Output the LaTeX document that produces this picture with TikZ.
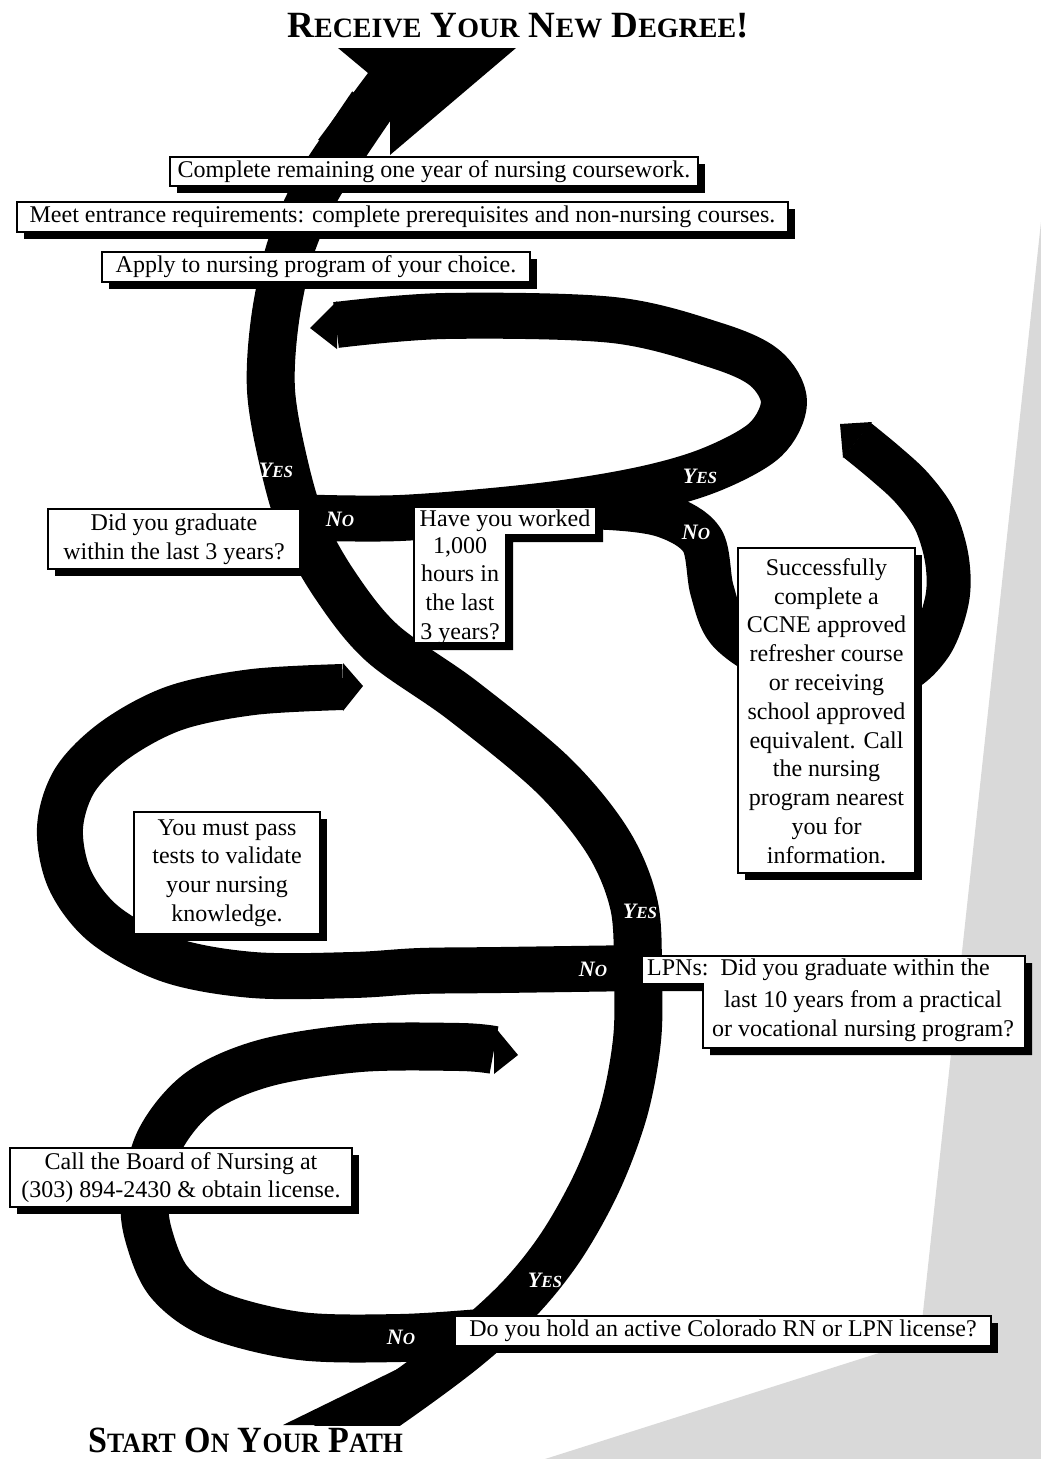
\documentclass[tikz,border=0pt]{standalone}
\usepackage{fontspec}
\usepackage{graphicx}
\setmainfont{Liberation Serif}
\usetikzlibrary{shadows}
\definecolor{bggray}{rgb}{0.85,0.85,0.85}
\newcommand\bodyfont{\fontsize{24}{28.8}\selectfont}
\newcommand\tsc[2]{{\fontsize{37}{37}\selectfont #1}{\fontsize{28}{28}\selectfont #2}}
\newcommand\ynl[2]{{\fontsize{22}{22}\selectfont #1}{\fontsize{17}{17}\selectfont #2}}
\tikzset{
  rib/.style={line width=48pt, line cap=butt, line join=round},
  box/.style={draw=black, line width=1.6pt, fill=white, inner sep=0pt, align=center, font=\bodyfont,
    drop shadow={shadow xshift=7pt, shadow yshift=-7pt, opacity=1, fill=black}},
  lbox/.style={draw=black, line width=1.6pt, fill=white},
  txt/.style={inner sep=0pt, align=center, font=\bodyfont},
  yn/.style={text=white, font=\bfseries\itshape, inner sep=0pt},
}
\begin{document}
\begin{tikzpicture}[x=1pt,y=-1pt]
\useasboundingbox (0,0) rectangle (1041,1459);
% grey backdrop
\fill[bggray] (1041,222) -- (920,1340) -- (545,1459) -- (1041,1459) -- cycle;

% ---------- main spine ----------
\begin{scope}
\clip (0,0) rectangle (1041,1425);
\draw[rib] plot[smooth, tension=0.55] coordinates {(318,1452) (395,1400) (465,1348) (520,1298) (562,1245) (598,1180) (624,1110) (637,1040) (638,975) (634,905) (608,842) (553,775) (462,700) (382,643) (335,585) (302,525) (283,460) (271,390) (275,320) (290,250) (315,192) (345,145) (372,105)};
\end{scope}
\fill (283,1425) -- (340,1425) -- (420,1358) -- cycle;
% top arrowhead, joined with the top of the shaft
\fill (338,48) -- (516,48) -- (390,155) -- (390,120) -- (370,148) -- (318,140) -- (368,73) -- cycle;

% ---------- branch: did you graduate NO + worked YES loop ----------
\draw[rib, line width=46pt] plot[smooth, tension=0.55] coordinates {(290,517) (400,518) (540,506) (640,490) (710,470) (765,440) (784,402) (765,368) (715,345) (613,320) (445,316) (336,325)};
\fill (337,301) -- (310,328) -- (337,349) -- cycle;

% ---------- branch: worked NO -> refresher loop ----------
\draw[rib, line width=44pt] plot[smooth, tension=0.55] coordinates {(540,508) (610,508) (665,516) (702,540) (712,590) (728,630) (770,660) (830,685) (895,675) (930,645) (947,600) (947,560) (935,520) (912,488) (885,463) (857,440)};
\fill (872,422) -- (840,424) -- (843,458) -- cycle;

% ---------- branch: LPN NO loop ----------
\draw[rib, line width=46pt] plot[smooth, tension=0.55] coordinates {(640,968) (500,970) (420,971) (353,975) (253,975) (170,960) (105,925) (70,880) (60,828) (75,780) (115,740) (175,708) (253,692) (343,687)};
\fill (343,663) -- (363,686) -- (343,711) -- cycle;

% ---------- branch: license NO loop ----------
\draw[rib] plot[smooth, tension=0.55] coordinates {(480,1333) (400,1338) (300,1336) (215,1315) (170,1283) (150,1240) (145,1200) (160,1140) (200,1092) (265,1063) (360,1048) (460,1047) (494,1050)};
\fill (494,1026) -- (518,1055) -- (494,1074) -- cycle;

% ---------- titles ----------
\node[font=\bfseries, anchor=base, inner sep=0pt] (title) at (518,37)
  {\fontsize{37}{37}\selectfont\tsc{R}{ECEIVE} \tsc{Y}{OUR} \tsc{N}{EW} \tsc{D}{EGREE}\tsc{!}{}};
\node[font=\bfseries, anchor=base west, inner sep=0pt] (start) at (88,1452)
  {\scalebox{0.92}[1]{\fontsize{37}{37}\selectfont\tsc{S}{TART} \tsc{O}{N} \tsc{Y}{OUR} \tsc{P}{ATH}}};

% ---------- boxes ----------
\node[box, minimum width=528pt, minimum height=29pt] (complete) at (434,171.5) {Complete remaining one year of nursing coursework.};
\node[box, minimum width=771pt, minimum height=30pt] (meet) at (402.5,217) {Meet entrance requirements: complete prerequisites and non-nursing courses.};
\node[box, minimum width=428pt, minimum height=30pt] (apply) at (316,267) {Apply to nursing program of your choice.};
\node[box, minimum width=252pt, minimum height=60pt] (didgrad) at (174,539) {Did you graduate\\within the last 3 years?};

% worked (L-shaped)
\fill[black, shift={(7,7)}] (414,507) -- (596,507) -- (596,535) -- (506,535) -- (506,643) -- (414,643) -- cycle;
\filldraw[lbox] (414,507) -- (596,507) -- (596,535) -- (506,535) -- (506,643) -- (414,643) -- cycle;
\node[txt] (worked1) at (505,521) {Have you worked};
\node[txt] (worked2) at (460,591) {1,000\\hours in\\the last\\3 years?};

% refresher
\node[box, minimum width=177pt, minimum height=325pt] (ccnebox) at (826.5,710.5) {};
\node[txt] (ccne) at (826.5,711) {Successfully\\complete a\\CCNE approved\\refresher course\\or receiving\\school approved\\equivalent. Call\\the nursing\\program nearest\\you for\\information.};

\node[box, minimum width=186pt, minimum height=122pt] (pass) at (227,873) {You must pass\\tests to validate\\your nursing\\knowledge.};

% LPN (L-shaped)
\fill[black, shift={(7,7)}] (642,956) -- (1025,956) -- (1025,1048) -- (703,1048) -- (703,984) -- (642,984) -- cycle;
\filldraw[lbox] (642,956) -- (1025,956) -- (1025,1048) -- (703,1048) -- (703,984) -- (642,984) -- cycle;
\node[txt, anchor=west] (lpn1) at (647,970) {LPNs:\ \ Did you graduate within the};
\node[txt] (lpn2) at (863,1016) {last 10 years from a practical\\or vocational nursing program?};

\node[box, minimum width=342pt, minimum height=59pt] (board) at (181,1177.5) {Call the Board of Nursing at\\(303) 894-2430 \& obtain license.};
\node[box, minimum width=536pt, minimum height=30pt] (hold) at (723,1331) {Do you hold an active Colorado RN or LPN license?};

% ---------- yes / no labels ----------
\node[yn] (y1) at (276,470) {\ynl{Y}{ES}};
\node[yn] (n1) at (340,519) {\ynl{N}{O}};
\node[yn] (y2) at (700,476) {\ynl{Y}{ES}};
\node[yn] (n2) at (696,532) {\ynl{N}{O}};
\node[yn] (y3) at (640,911) {\ynl{Y}{ES}};
\node[yn] (n3) at (593,969) {\ynl{N}{O}};
\node[yn] (y4) at (545,1280) {\ynl{Y}{ES}};
\node[yn] (n4) at (401,1337) {\ynl{N}{O}};
\end{tikzpicture}
\end{document}
